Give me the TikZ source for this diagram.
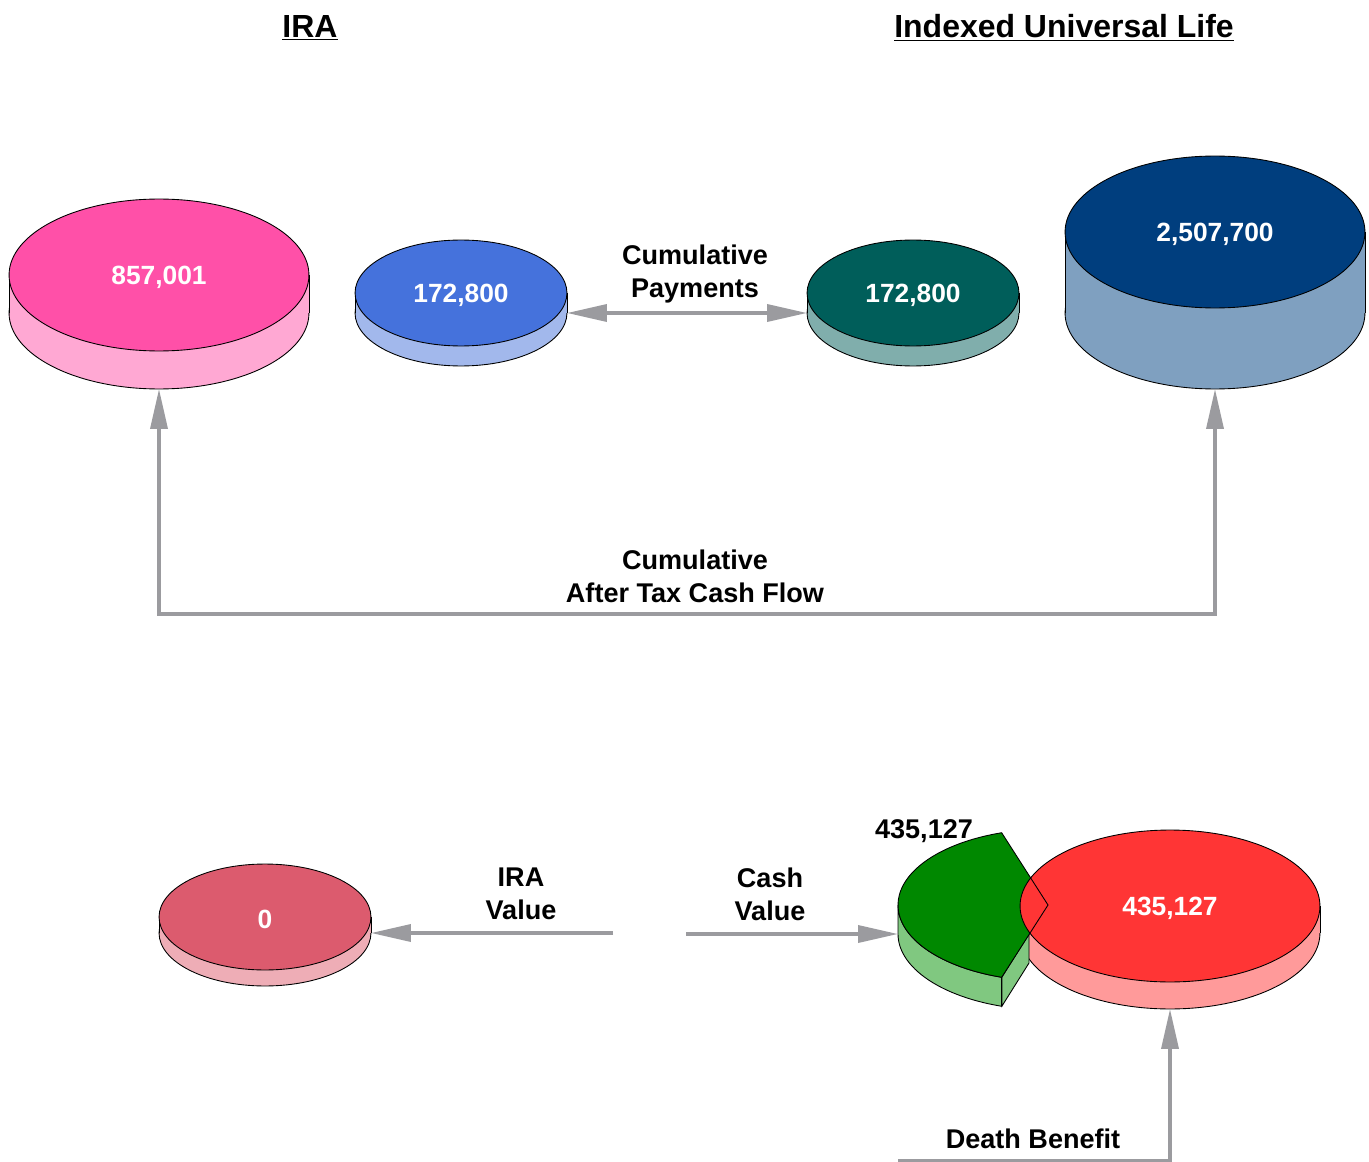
\documentclass[tikz,border=0pt]{standalone}
\usepackage{fontspec}
\setmainfont{Liberation Sans}
\usetikzlibrary{arrows.meta,shapes.geometric}
\definecolor{arrowgray}{HTML}{9B9B9F}
\definecolor{pinktop}{HTML}{FF50A8}
\definecolor{pinkside}{HTML}{FFA8D3}
\definecolor{bluetop}{HTML}{4572DC}
\definecolor{blueside}{HTML}{A2B8EC}
\definecolor{tealtop}{HTML}{005E5A}
\definecolor{tealside}{HTML}{80AEAC}
\definecolor{navytop}{HTML}{003E7E}
\definecolor{navyside}{HTML}{7FA0C0}
\definecolor{rosetop}{HTML}{DC5B6E}
\definecolor{roseside}{HTML}{EEADB6}
\definecolor{redtop}{HTML}{FF3535}
\definecolor{redside}{HTML}{FF9A9A}
\definecolor{greentop}{HTML}{008800}
\definecolor{greenside}{HTML}{80C880}
\tikzset{
  diskface/.style={ellipse,draw=black,line width=0.5pt,inner sep=0pt,
                   outer sep=0pt,text=white,
                   font=\bfseries\fontsize{15}{18}\selectfont},
  rim/.style={draw=black,line width=0.5pt},
  grayarr/.style={->,line width=2pt,draw=arrowgray},
  twoway/.style={<->,line width=2pt,draw=arrowgray},
  caption/.style={align=center,inner sep=2pt,
                  font=\bfseries\fontsize{15.4}{18.8}\selectfont},
  heading/.style={inner sep=2pt,font=\bfseries\fontsize{18.2}{21}\selectfont}
}
% side and base of a disk: name, x, y, rx, ry, depth, colour
\newcommand{\diskside}[7]{%
  \node[diskface,fill=#7,minimum width=#4*0.04cm,minimum height=#5*0.04cm]
    (#1-base) at (#2,#3+#6) {};
  \fill[#7] (#2-#4,#3) rectangle (#2+#4,#3+#6);
  \draw[rim] (#2-#4,#3) -- (#2-#4,#3+#6) (#2+#4,#3) -- (#2+#4,#3+#6);
}
% top face of a disk: name, x, y, rx, ry, colour, label
\newcommand{\disktop}[7]{%
  \node[diskface,fill=#6,minimum width=#4*0.04cm,minimum height=#5*0.04cm]
    (#1) at (#2,#3) {};
  \node[text=white,font=\bfseries\fontsize{15}{18}\selectfont]
    (#1-value) at (#2,#3+2) {#7};
}
\begin{document}
\begin{tikzpicture}[x=0.02cm,y=-0.02cm,>={Triangle[length=0.8cm,width=0.34cm]}]
  \path[use as bounding box] (0,0) rectangle (1369,1162);
  \node[heading] (iratitle) at (310,28) {\underline{IRA}};
  \node[heading] (iultitle) at (1064,28) {\underline{Indexed Universal Life}};

  % top row
  \diskside{irabal}{159}{275}{150}{76}{38}{pinkside}
  \disktop{irabal}{159}{275}{150}{76}{pinktop}{857,001}
  \diskside{irapay}{461}{293}{106}{53}{20}{blueside}
  \disktop{irapay}{461}{293}{106}{53}{bluetop}{172,800}
  \diskside{iulpay}{913}{293}{106}{53}{20}{tealside}
  \disktop{iulpay}{913}{293}{106}{53}{tealtop}{172,800}
  \diskside{iulbal}{1215}{232}{150}{76}{81}{navyside}
  \disktop{iulbal}{1215}{232}{150}{76}{navytop}{2,507,700}

  \node[caption] (paylabel) at (695,274) {Cumulative\\Payments};
  \draw[twoway] (irapay-base.east) -- (iulpay-base.west);
  \node[caption] (cflabel) at (695,576) {Cumulative\\After Tax Cash Flow};
  \coordinate (cfline) at (695,614);
  \draw[twoway] (irabal-base.south) |- (cfline) -| (iulbal-base.south);

  % bottom row
  \diskside{iraval}{265}{917}{106}{53}{16}{roseside}
  \disktop{iraval}{265}{917}{106}{53}{rosetop}{0}
  \diskside{deathben}{1170}{906}{150}{76}{27}{redside}

  % cash value slice
  \filldraw[fill=greenside,rim]
    plot[domain=180:252,samples=30] ({1048+150*cos(\x)},{934-76*sin(\x)})
    -- plot[domain=252:180,samples=30] ({1048+150*cos(\x)},{905-76*sin(\x)})
    -- cycle;
  \filldraw[fill=greenside,rim] (1002,977) -- (1029,934) -- (1029,963)
    -- (1002,1006) -- cycle;
  \fill[greentop] (1048,905)
    -- plot[domain=108:252,samples=50] ({1048+150*cos(\x)},{905-76*sin(\x)})
    -- cycle;
  \disktop{deathben}{1170}{906}{150}{76}{redtop}{435,127}
  \draw[rim] (1048,905)
    -- plot[domain=108:252,samples=50] ({1048+150*cos(\x)},{905-76*sin(\x)})
    -- cycle;
  \coordinate (cashslice) at (898,934);
  \node[caption] (cvamount) at (924,831) {435,127};

  \node[caption] (iravlabel) at (521,894) {IRA\\Value};
  \coordinate (iravstart) at (613,933);
  \draw[grayarr] (iravstart) -- (iraval-base.east);
  \node[caption] (cvlabel) at (770,894) {Cash\\Value};
  \coordinate (cvstart) at (686,934);
  \draw[grayarr] (cvstart) -- (cashslice);
  \node[caption] (dblabel) at (1033,1139) {Death Benefit};
  \coordinate (dbstart) at (898,1161);
  \draw[grayarr] (dbstart) -| (deathben-base.south);
\end{tikzpicture}
\end{document}
